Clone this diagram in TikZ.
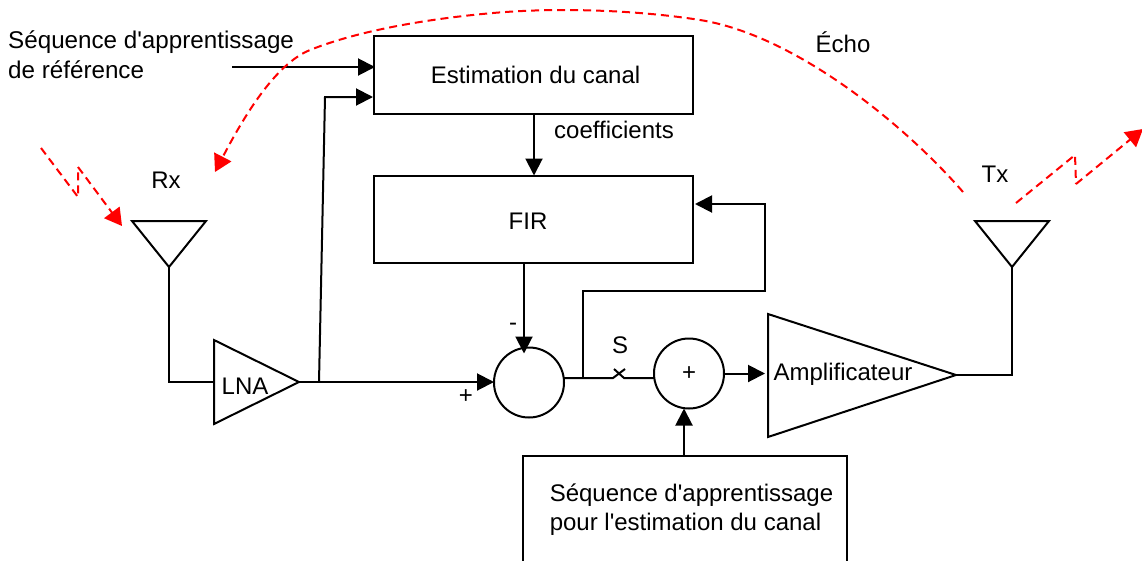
\documentclass[tikz,border=0pt]{standalone}
\usepackage{fontspec}
\setmainfont{Liberation Sans}[Ligatures=TeXOff]
\usetikzlibrary{arrows.meta,calc}
\definecolor{echored}{RGB}{255,0,0}
\tikzset{
  x=1pt,y=-1pt,
  wire/.style={line width=2pt,black,line join=miter},
  flow/.style={wire,-{Triangle[length=17pt,width=17pt]}},
  blockbox/.style={draw=black,line width=2pt,rectangle,inner sep=0pt,outer sep=0pt},
  sumnode/.style={draw=black,line width=2pt,circle,inner sep=0pt,outer sep=0pt,minimum size=70pt,font=\fontsize{24}{29}\selectfont},
  lbl/.style={inner sep=0pt,font=\fontsize{24}{29}\selectfont,align=left},
  echo/.style={line width=2pt,echored,dash pattern=on 8pt off 5pt},
  echoarrow/.style={echo,-{Triangle[length=17pt,width=19pt,fill=echored]}},
  ant/.style={wire,line join=miter},
}
\begin{document}
\begin{tikzpicture}
\useasboundingbox (0,0) rectangle (1142,560);
% blocks
\node[blockbox,minimum width=319pt,minimum height=78pt] (est) at (533.5,74.5) {};
\node[lbl] (esttxt) at (535.5,74.5) {Estimation du canal};
\node[blockbox,minimum width=319pt,minimum height=87pt] (fir) at (533,219) {};
\node[lbl] (firtxt) at (528,221) {FIR};
\node[blockbox,minimum width=324pt,minimum height=110pt] (seq) at (685,511) {};
\node[lbl] (seqtxt) at (691.5,510) {Séquence d'apprentissage\\pour l'estimation du canal};
\node[sumnode] (sub) at (529,382.5) {};
\node[sumnode] (add) at (689,373.5) {+};
% labels
\node[lbl,anchor=west,font=\fontsize{24.2}{30}\selectfont] (seqref) at (8,55) {Séquence d'apprentissage\\de référence};
\node[lbl] (coef) at (614,130) {coefficients};
\node[lbl] (echolbl) at (843,42) {Écho};
\node[lbl] (rxl) at (166,180) {Rx};
\node[lbl] (txl) at (995,174) {Tx};
\node[lbl] (sl) at (620,345) {S};
\node[lbl] (minus) at (513,327) {-};
\node[lbl] (plus) at (466,397) {+};
% antennas
\coordinate (rxa) at (132,221); \coordinate (rxb) at (206,221); \coordinate (rxc) at (169,267);
\draw[ant] (rxa) -- (rxb) -- (rxc) -- cycle;
\coordinate (txa) at (975,221); \coordinate (txb) at (1049,221); \coordinate (txc) at (1012,267);
\draw[ant] (txa) -- (txb) -- (txc) -- cycle;
% LNA
\coordinate (lnaa) at (214,340); \coordinate (lnab) at (214,424); \coordinate (lnac) at (299,382);
\draw[wire] (lnaa) -- (lnac) -- (lnab) -- cycle;
\node[lbl] (lna) at (245,386) {LNA};
% amp
\coordinate (ampa) at (768,314); \coordinate (ampb) at (768,437); \coordinate (ampc) at (956,375);
\draw[wire] (ampa) -- (ampc) -- (ampb) -- cycle;
\node[lbl] (amp) at (843,374) {Amplificateur};
% routing points
\coordinate (rxcorner) at (169,382);
\coordinate (tap) at (319,382);
\coordinate (tapup) at (325,97);
\coordinate (seqin) at (232,67);
\coordinate (estx) at (534,0);
\coordinate (firx) at (524,0);
\coordinate (subout) at (583,378);
\coordinate (swa) at (613,378);
\coordinate (swb) at (625,369);
\coordinate (swc) at (614,369);
\coordinate (swd) at (624,378);
\coordinate (fba) at (583,291);
\coordinate (fbb) at (765,291);
\coordinate (fbc) at (765,204);
\coordinate (seqx) at (684,0);
\coordinate (txcorner) at (1012,375);
% connectors
\draw[wire] (rxc) -- (rxcorner) -- (lnaa |- rxcorner);
\draw[flow] (lnac) -- (sub.west |- lnac);
\draw[flow,shorten >=1pt] (tap) -- (tapup) -- (est.west |- tapup);
\draw[flow,shorten >=-1pt] (seqin) -- (est.west |- seqin);
\draw[flow] (est.south -| estx) -- (fir.north -| estx);
\draw[flow,shorten >=-6pt] (fir.south -| firx) -- (sub.north -| firx);
\draw[wire] (sub.east |- subout) -- (subout) -- (swa) -- (swb);
\draw[wire] (swc) -- (swd) -- (add.west |- swd);
\draw[flow,shorten >=2.5pt] (subout) -- (fba) -- (fbb) -- (fbc) -- (fir.east |- fbc);
\draw[flow,shorten >=3pt] (add.east) -- (ampa |- add.east);
\draw[flow] (seq.north -| seqx) -- (add.south -| seqx);
\draw[wire] (ampc) -- (txcorner) -- (txc);
% echo
\coordinate (rin) at (41,148); \coordinate (rz1) at (78,197); \coordinate (rz2) at (78,167);
\coordinate (rend) at (122,226);
\draw[echo] (rin) -- (rz1) -- (rz2);
\draw[echoarrow] (rz2) -- (rend);
\coordinate (tin) at (1016,203); \coordinate (tz1) at (1075,155); \coordinate (tz2) at (1076,184);
\coordinate (tend) at (1143,129);
\draw[echo] (tin) -- (tz1) -- (tz2);
\draw[echoarrow] (tz2) -- (tend);
\coordinate (es) at (963,192); \coordinate (ee) at (215,172);
\draw[echoarrow] (es) .. controls (905,125) and (795,35) .. (700,20) .. controls (640,10.5) and (560,7) .. (493,13) .. controls (430,18.6) and (360,30) .. (310,50) .. controls (275,64) and (243,118) .. (ee);
\end{tikzpicture}
\end{document}
